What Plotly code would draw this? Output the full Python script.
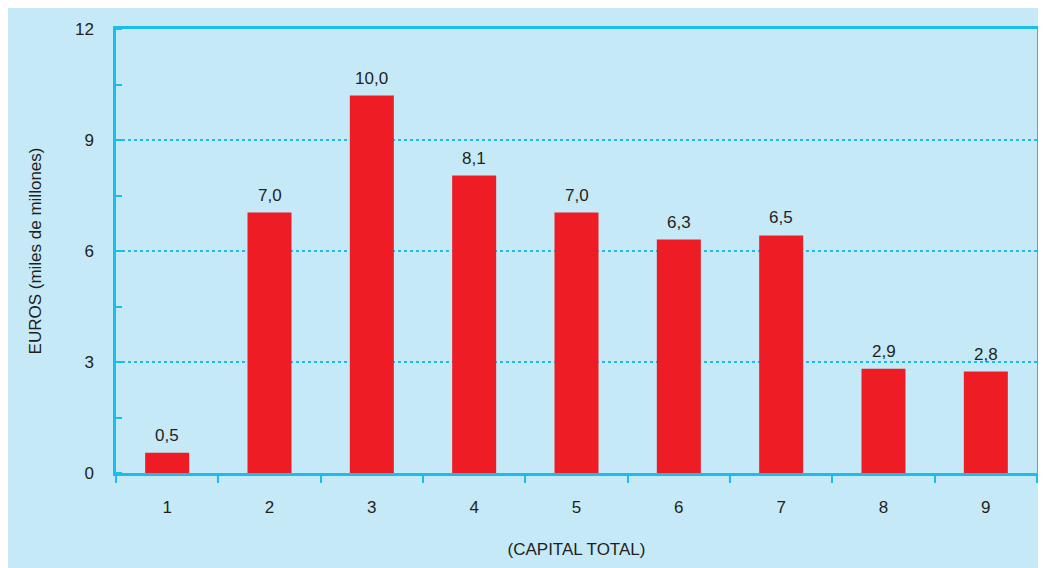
import plotly.graph_objects as go

# --- Chart data ---
categories = ["1", "2", "3", "4", "5", "6", "7", "8", "9"]
bar_heights = [0.55, 7.04, 10.2, 8.04, 7.04, 6.31, 6.42, 2.82, 2.74]
bar_labels = ["0,5", "7,0", "10,0", "8,1", "7,0", "6,3", "6,5", "2,9", "2,8"]
y_ticks = [0, 3, 6, 9, 12]

BG = "#c6e9f8"
LINE = "#1bbdec"
RED = "#ee1c25"
TEXT = "#231f20"
FONT = "Liberation Sans, Arial, Helvetica, sans-serif"
FS = 17

fig = go.Figure()

fig.add_trace(go.Bar(
    x=categories,
    y=bar_heights,
    marker=dict(color=RED, line=dict(width=0)),
    width=0.43,
    hoverinfo="skip",
    showlegend=False,
))

# Value labels above each bar (x given as category position)
for i, (h, lab) in enumerate(zip(bar_heights, bar_labels)):
    fig.add_annotation(
        x=i, y=h, text=lab, showarrow=False,
        yanchor="bottom", yshift=6,
        font=dict(family=FONT, size=FS, color=TEXT),
    )

# page body adds an 8px white border, so the figure itself is a bit smaller
fig.update_layout(
    width=1038, height=560,
    margin=dict(l=108, r=9, t=21, b=95),
    paper_bgcolor=BG,
    plot_bgcolor=BG,
    bargap=0.57,
    font=dict(family=FONT, size=FS, color=TEXT),
    xaxis=dict(
        type="category",
        range=[-0.5, 8.5],
        automargin=False,
        tickson="boundaries",
        ticks="outside", ticklen=7, tickwidth=1.5, tickcolor=LINE,
        ticklabelstandoff=17,
        showline=True, linecolor=LINE, linewidth=2.5, mirror=True,
        showgrid=False,
        tickfont=dict(family=FONT, size=FS, color=TEXT),
        title=dict(text="(CAPITAL TOTAL)", standoff=27,
                   font=dict(family=FONT, size=FS, color=TEXT)),
    ),
    yaxis=dict(
        range=[0, 12],
        automargin=False,
        tickvals=y_ticks,
        ticktext=[str(v) for v in y_ticks],
        ticks="",
        ticklabelstandoff=16,
        showline=True, linecolor=LINE, linewidth=2.5, mirror=True,
        showgrid=True, gridcolor=LINE, gridwidth=1.5, griddash="dot",
        zeroline=False,
        minor=dict(dtick=1.5, ticks="inside", ticklen=6, tickwidth=1.5,
                   tickcolor=LINE, showgrid=False),
        tickfont=dict(family=FONT, size=FS, color=TEXT),
        title=dict(text="EUROS (miles de millones)", standoff=29,
                   font=dict(family=FONT, size=FS, color=TEXT)),
    ),
)

fig.write_html("out.html")
